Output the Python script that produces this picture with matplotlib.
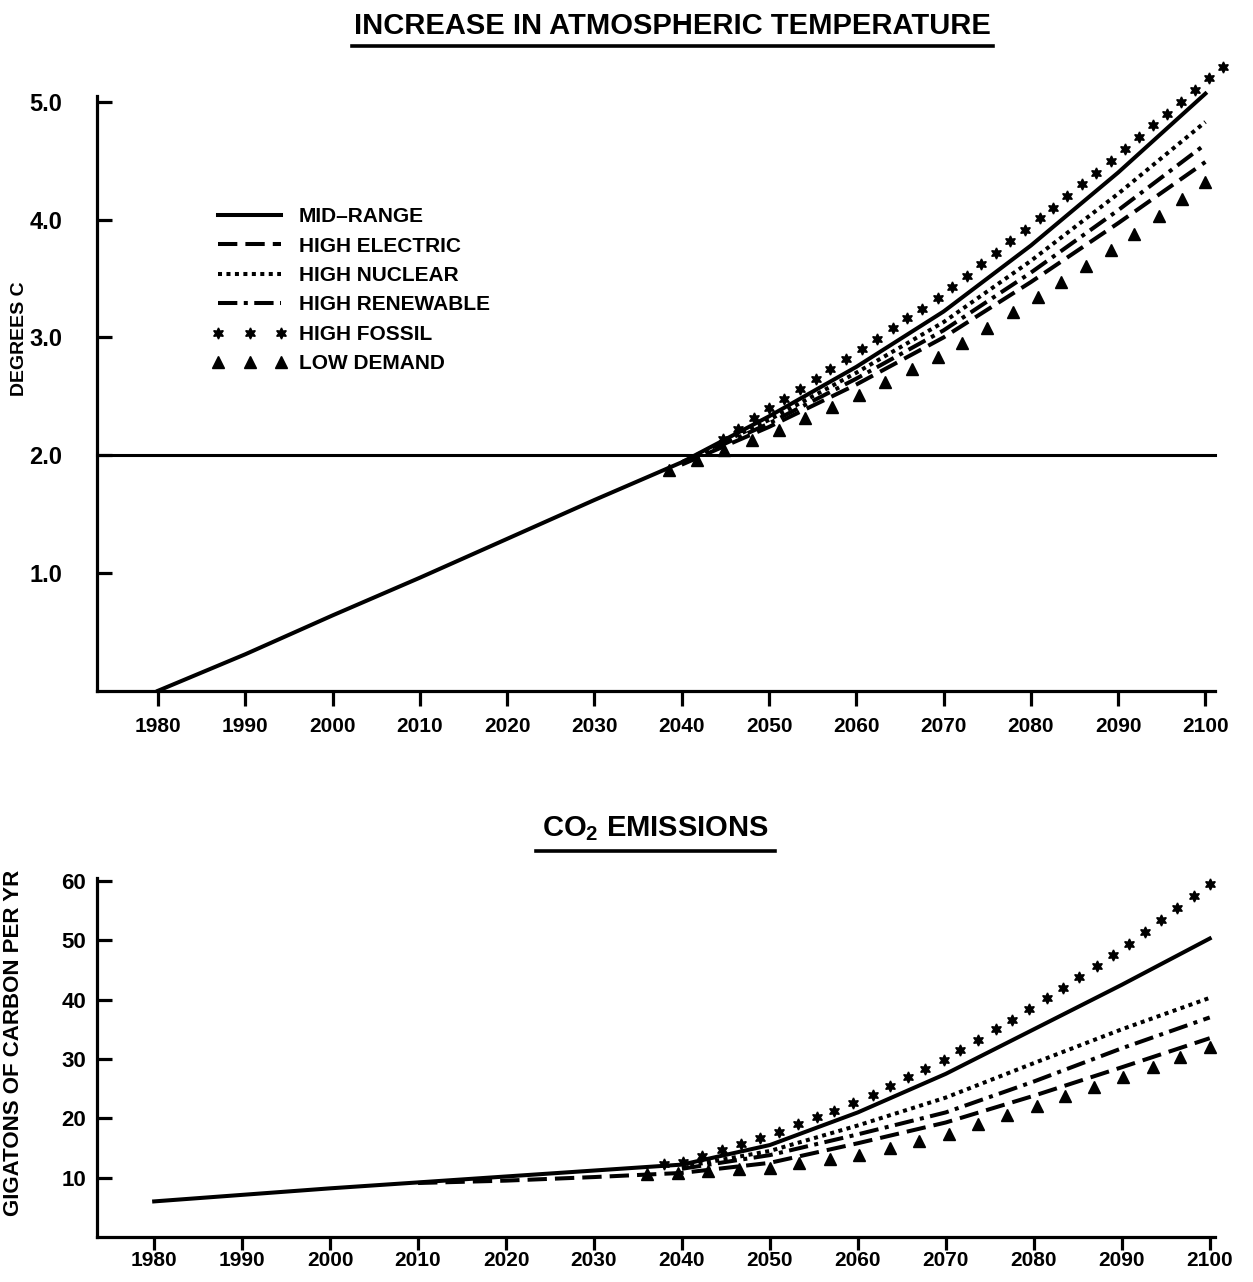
import matplotlib.pyplot as plt
import matplotlib as mpl
from matplotlib.lines import Line2D
from matplotlib.path import Path
import numpy as np

mpl.rcParams['font.family'] = ['Liberation Sans', 'DejaVu Sans']
mpl.rcParams['font.weight'] = 'bold'
mpl.rcParams['mathtext.fontset'] = 'custom'
mpl.rcParams['mathtext.rm'] = 'Liberation Sans:bold'
mpl.rcParams['mathtext.default'] = 'rm'

# years on the axes
decades = [1980, 1990, 2000, 2010, 2020, 2030, 2040, 2050, 2060, 2070, 2080, 2090, 2100]
scen_years = [2040, 2050, 2060, 2070, 2080, 2090, 2100]

# increase in atmospheric temperature, degrees C
temp_mid = [0.0, 0.31, 0.64, 0.96, 1.29, 1.62, 1.94, 2.33, 2.75, 3.22, 3.78, 4.40, 5.07]
temp_electric = [1.92, 2.24, 2.60, 3.00, 3.47, 3.97, 4.49]
temp_nuclear = [1.94, 2.30, 2.70, 3.13, 3.65, 4.22, 4.83]
temp_renewable = [1.93, 2.27, 2.65, 3.06, 3.55, 4.08, 4.64]
temp_fossil_years = [2043, 2050, 2060, 2070, 2080, 2090, 2102]
temp_fossil = [2.05, 2.40, 2.87, 3.37, 3.95, 4.55, 5.30]
temp_low_years = [2037, 2050, 2060, 2070, 2080, 2090, 2100]
temp_low = [1.83, 2.18, 2.50, 2.86, 3.30, 3.78, 4.32]

# co2 emissions, gigatons of carbon per year
co2_mid = [6.0, 7.1, 8.2, 9.2, 10.2, 11.2, 12.2, 15.5, 21.0, 27.5, 35.0, 42.5, 50.3]
co2_electric_years = [2010, 2020, 2030, 2040, 2050, 2060, 2070, 2080, 2090, 2100]
co2_electric = [9.1, 9.5, 10.1, 10.8, 12.5, 15.8, 19.3, 23.8, 28.6, 33.5]
co2_nuclear = [11.8, 14.5, 18.8, 23.5, 29.3, 35.0, 40.3]
co2_renewable = [11.5, 13.8, 17.3, 21.0, 26.2, 31.8, 37.0]
co2_fossil_years = [2036, 2040, 2050, 2060, 2070, 2080, 2090, 2100]
co2_fossil = [12.0, 12.5, 17.2, 22.8, 30.0, 38.8, 48.5, 59.5]
co2_low_years = [2035, 2040, 2050, 2060, 2070, 2080, 2090, 2100]
co2_low = [10.6, 10.8, 11.7, 13.8, 17.2, 22.0, 26.8, 32.0]

labels = ['MID\u2013RANGE', 'HIGH ELECTRIC', 'HIGH NUCLEAR',
          'HIGH RENEWABLE', 'HIGH FOSSIL', 'LOW DEMAND']

lw = 2.9
dashed = (0, (4.8, 2.0))
dotted = (0, (1.0, 1.1))
dashdot = (0, (4.8, 1.6, 1.0, 1.6))
star = (6, 1, 0)

W, H = 1253, 1282
fig = plt.figure(figsize=(W / 100, H / 100), dpi=100)


def marker_series(ax, xs, ys, marker, ms, spacing, label=None):
    # markers spread evenly along the drawn line, counted back from its end
    verts = Path(np.column_stack([xs, ys])).interpolated(60).vertices[::-1]
    ax.plot(verts[:, 0], verts[:, 1], color='black', ls='none', marker=marker,
            ms=ms, markevery=spacing, label=label)


def style_axes(ax, yticks, ylabels, ysize, ypad, xlen, xpad):
    for s in ['top', 'right']:
        ax.spines[s].set_visible(False)
    for s in ['left', 'bottom']:
        ax.spines[s].set_linewidth(2.3)
    ax.set_xticks(decades)
    ax.set_yticks(yticks)
    ax.set_yticklabels(ylabels)
    ax.tick_params(axis='x', direction='out', length=xlen, width=2.3,
                   labelsize=15, pad=xpad)
    ax.tick_params(axis='y', direction='in', length=11, width=2.3,
                   labelsize=ysize, pad=ypad)


# ---- temperature chart
ax1 = fig.add_axes([97 / W, 1 - 690.75 / H, 1118 / W, (690.75 - 96) / H])
ax1.axhline(2.0, color='black', lw=2.2)
ax1.plot(decades, temp_mid, color='black', lw=lw, label=labels[0])
ax1.plot(scen_years, temp_electric, color='black', lw=lw, ls=dashed, label=labels[1])
ax1.plot(scen_years, temp_nuclear, color='black', lw=lw, ls=dotted, label=labels[2])
ax1.plot(scen_years, temp_renewable, color='black', lw=lw, ls=dashdot, label=labels[3])
marker_series(ax1, temp_fossil_years, temp_fossil, star, 8, 0.0145, labels[4])
marker_series(ax1, temp_low_years, temp_low, '^', 9, 0.023, labels[5])
ax1.set_xlim(1973.0, 2101.1)
ax1.set_ylim(0, 5.05)
style_axes(ax1, [1, 2, 3, 4, 5], ['1.0', '2.0', '3.0', '4.0', '5.0'], 17, 25, 11, 8)
ax1.legend(loc='upper left', bbox_to_anchor=(0.103, 0.813), frameon=False,
           fontsize=15, handlelength=3.6, handletextpad=0.55, labelspacing=0.5,
           borderaxespad=0, borderpad=0, numpoints=3)
for c in ax1.lines:
    c.set_clip_on(False)

# ---- co2 chart
ax2 = fig.add_axes([97 / W, 1 - 1237 / H, 1118 / W, 359 / H])
ax2.plot(decades, co2_mid, color='black', lw=lw)
ax2.plot(co2_electric_years, co2_electric, color='black', lw=lw, ls=dashed)
ax2.plot(scen_years, co2_nuclear, color='black', lw=lw, ls=dotted)
ax2.plot(scen_years, co2_renewable, color='black', lw=lw, ls=dashdot)
marker_series(ax2, co2_fossil_years, co2_fossil, star, 8, 0.017)
marker_series(ax2, co2_low_years, co2_low, '^', 9, 0.026)
ax2.set_xlim(1973.5, 2100.6)
ax2.set_ylim(0, 60.5)
style_axes(ax2, [10, 20, 30, 40, 50, 60], ['10', '20', '30', '40', '50', '60'],
           16, 8, 9, 1)
for c in ax2.lines:
    c.set_clip_on(False)

# titles, underlines and axis labels
fig.text(672 / W, 1 - 34 / H, 'INCREASE IN ATMOSPHERIC TEMPERATURE',
         ha='center', va='baseline', fontsize=21)
fig.add_artist(Line2D([352 / W, 993 / W], [1 - 46 / H] * 2, color='black', lw=2.6))
fig.text(655 / W, 1 - 836 / H, r'CO$_{2}$ EMISSIONS',
         ha='center', va='baseline', fontsize=21)
fig.add_artist(Line2D([536 / W, 775 / W], [1 - 851 / H] * 2, color='black', lw=2.6))
fig.text(20 / W, 1 - 339 / H, 'DEGREES C', rotation=90,
         ha='center', va='center', fontsize=14)
fig.text(14 / W, 1 - 1043 / H, 'GIGATONS OF CARBON PER YR', rotation=90,
         ha='center', va='center', fontsize=16)

fig.savefig('out.png', dpi=100, facecolor='white')
